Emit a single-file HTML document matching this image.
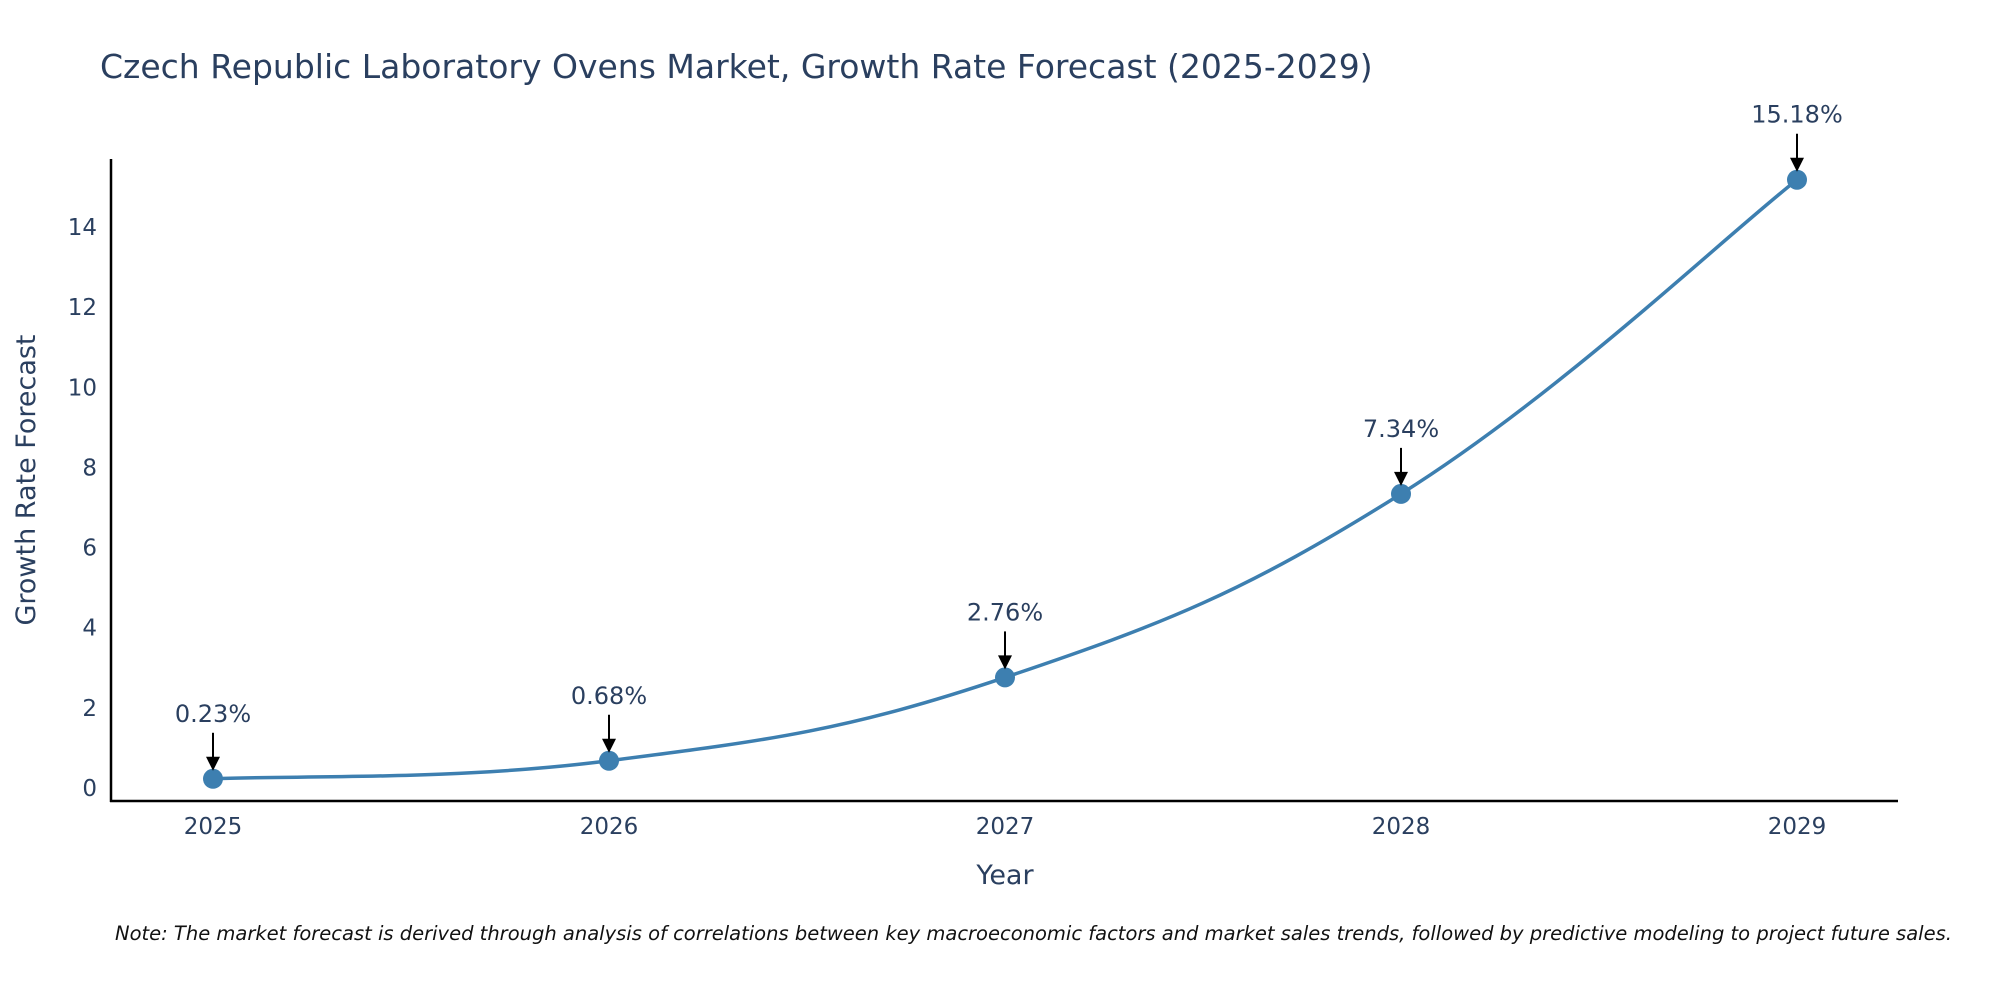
<!DOCTYPE html>
<html><head><meta charset="utf-8"><style>
body{margin:0;background:#fff;width:2000px;height:1000px;overflow:hidden;font-family:"DejaVu Sans",sans-serif}
</style></head><body>
<svg id="chart" width="2000" height="1000" xmlns="http://www.w3.org/2000/svg" font-family="DejaVu Sans, sans-serif">
<text x="100" y="78" font-size="33" fill="#2a3f5f">Czech Republic Laboratory Ovens Market, Growth Rate Forecast (2025-2029)</text>
<g id="yticks"></g><g id="xticks"></g>
<line x1="111" y1="159" x2="111" y2="802" stroke="#000" stroke-width="2.5"/>
<line x1="110" y1="801" x2="1898" y2="801" stroke="#000" stroke-width="2.5"/>
<path id="line" fill="none" stroke="#3d7fb0" stroke-width="3.5"/>
<g id="points"></g><g id="annots"></g>
<text transform="translate(35,480) rotate(-90)" text-anchor="middle" font-size="27" fill="#2a3f5f">Growth Rate Forecast</text>
<text x="1005" y="884" text-anchor="middle" font-size="27" fill="#2a3f5f">Year</text>
<text x="115" y="940" font-size="19.5" font-style="italic" fill="#111">Note: The market forecast is derived through analysis of correlations between key macroeconomic factors and market sales trends, followed by predictive modeling to project future sales.</text>
</svg>
<script>
const years=["2025","2026","2027","2028","2029"];
const values=[0.23,0.68,2.76,7.34,15.18];
const labels=["0.23%","0.68%","2.76%","7.34%","15.18%"];
const yTicks=[0,2,4,6,8,10,12,14];
const NS="http://www.w3.org/2000/svg";
const x=i=>213+i*396;
const y=v=>788-v*40.07;
function mk(tag,attrs,parent,txt){const e=document.createElementNS(NS,tag);for(const k in attrs)e.setAttribute(k,attrs[k]);if(txt!=null)e.textContent=txt;parent.appendChild(e);return e;}
const yt=document.getElementById('yticks');
yTicks.forEach(t=>{const e=mk('text',{x:97,y:y(t)+8,'text-anchor':'end','font-size':23,fill:'#2a3f5f'},yt,t);

});
const xt=document.getElementById('xticks');
years.forEach((yr,i)=>{const e=mk('text',{x:x(i),y:834,'text-anchor':'middle','font-size':23,fill:'#2a3f5f'},xt,yr);

});
const P=values.map((v,i)=>[x(i),y(v)]);
let d=`M${P[0][0]},${P[0][1]}`;const s=0.2;
for(let i=0;i<P.length-1;i++){const p0=P[Math.max(0,i-1)],p1=P[i],p2=P[i+1],p3=P[Math.min(P.length-1,i+2)];
const c1=[p1[0]+(p2[0]-p0[0])*s,p1[1]+(p2[1]-p0[1])*s],c2=[p2[0]-(p3[0]-p1[0])*s,p2[1]-(p3[1]-p1[1])*s];
d+=` C${c1[0]},${c1[1]} ${c2[0]},${c2[1]} ${p2[0]},${p2[1]}`;}
document.getElementById('line').setAttribute('d',d);
const pts=document.getElementById('points'),an=document.getElementById('annots');
P.forEach((p,i)=>{const c=mk('circle',{cx:p[0],cy:p[1],r:10,fill:'#3d7fb0'},pts);


const g=mk('g',{},an);


mk('line',{x1:p[0],y1:p[1]-46,x2:p[0],y2:p[1]-20,stroke:'#000','stroke-width':2},g);
mk('polygon',{points:`${p[0]-7},${p[1]-22} ${p[0]+7},${p[1]-22} ${p[0]},${p[1]-8}`,fill:'#000'},g);
mk('text',{x:p[0],y:p[1]-57,'text-anchor':'middle','font-size':24,fill:'#2a3f5f'},g,labels[i]);});
</script>
</body></html>
